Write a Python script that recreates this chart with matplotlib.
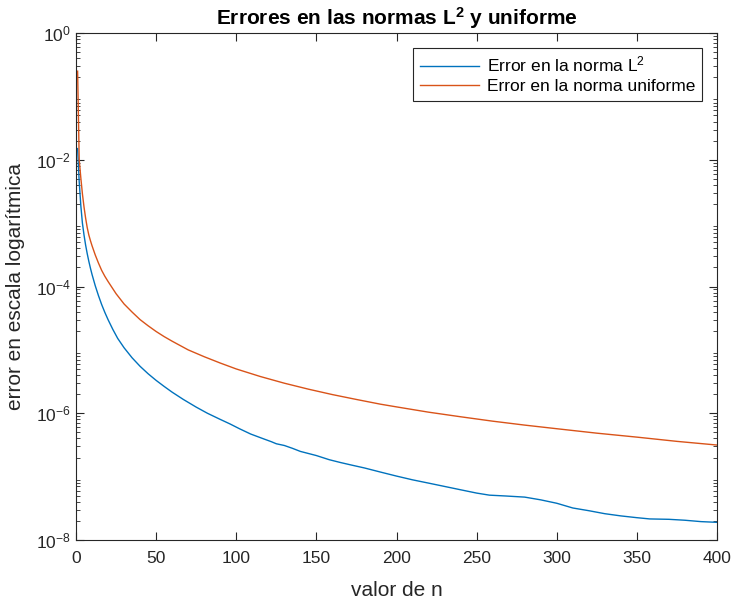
import matplotlib
matplotlib.use("Agg")
import matplotlib.pyplot as plt
from matplotlib.ticker import LogLocator, FixedLocator, NullFormatter, LogFormatterSciNotation
import numpy as np

plt.rcParams['font.family'] = ['Liberation Sans', 'DejaVu Sans']
plt.rcParams['mathtext.fontset'] = 'custom'
plt.rcParams['mathtext.rm'] = 'Liberation Sans'
plt.rcParams['mathtext.it'] = 'Liberation Sans:italic'
plt.rcParams['mathtext.bf'] = 'Liberation Sans:bold'

# L2 norm error
n_l2 = [1, 2, 3, 4, 5, 6, 7, 8, 9, 10, 12, 14, 16, 18, 20, 23, 26, 30, 35, 40, 45, 50,
        55, 60, 67, 75, 82, 90, 96, 102, 109, 117, 122, 125, 130, 135, 140, 150, 158,
        165, 172, 180, 190, 200, 210, 220, 230, 240, 250, 258, 268, 280, 290, 300, 310,
        320, 330, 340, 350, 358, 370, 380, 390, 400]
err_l2 = [1.5e-2, 4.5e-3, 1.9e-3, 1.0e-3, 6.5e-4, 4.5e-4, 3.3e-4, 2.5e-4, 1.95e-4, 1.55e-4,
          1.03e-4, 7.2e-5, 5.2e-5, 3.9e-5, 3.0e-5, 2.1e-5, 1.52e-5, 1.08e-5, 7.5e-6, 5.5e-6,
          4.2e-6, 3.3e-6, 2.65e-6, 2.15e-6, 1.65e-6, 1.25e-6, 1.0e-6, 8.0e-7, 6.8e-7, 5.7e-7,
          4.7e-7, 3.95e-7, 3.55e-7, 3.3e-7, 3.1e-7, 2.8e-7, 2.5e-7, 2.15e-7, 1.85e-7, 1.67e-7,
          1.52e-7, 1.37e-7, 1.18e-7, 1.02e-7, 8.9e-8, 7.9e-8, 7.0e-8, 6.2e-8, 5.5e-8, 5.1e-8,
          4.95e-8, 4.75e-8, 4.3e-8, 3.8e-8, 3.2e-8, 2.9e-8, 2.6e-8, 2.4e-8, 2.25e-8, 2.15e-8,
          2.12e-8, 2.05e-8, 1.95e-8, 1.9e-8]

# uniform norm error
n_unif = [1, 2, 3, 4, 5, 6, 7, 8, 9, 10, 12, 14, 16, 18, 20, 25, 30, 35, 40, 45, 50, 55,
          60, 70, 80, 90, 100, 115, 130, 145, 160, 175, 190, 200, 220, 240, 260, 280, 300,
          325, 350, 375, 400]
err_unif = [0.25, 1.0e-2, 5.2e-3, 2.9e-3, 1.8e-3, 1.2e-3, 8.5e-4, 6.5e-4, 5.3e-4, 4.4e-4,
            3.15e-4, 2.35e-4, 1.8e-4, 1.45e-4, 1.2e-4, 7.7e-5, 5.3e-5, 3.95e-5, 3.0e-5,
            2.4e-5, 1.95e-5, 1.62e-5, 1.37e-5, 1.0e-5, 7.8e-6, 6.2e-6, 5.0e-6, 3.8e-6,
            2.98e-6, 2.4e-6, 1.97e-6, 1.65e-6, 1.39e-6, 1.26e-6, 1.04e-6, 8.8e-7, 7.5e-7,
            6.5e-7, 5.7e-7, 4.85e-7, 4.2e-7, 3.6e-7, 3.15e-7]

labels = ['Error en la norma L$^2$', 'Error en la norma uniforme']
x_ticks = [0, 50, 100, 150, 200, 250, 300, 350, 400]

fig = plt.figure(figsize=(7.36, 6.0), dpi=100)
ax = fig.add_axes([76/736, 1-540/600, (717-76)/736, (540-33)/600])

ax.plot(n_l2, err_l2, color='#0072BD', lw=1.0, label=labels[0])
ax.plot(n_unif, err_unif, color='#D95319', lw=1.0, label=labels[1])

ax.set_yscale('log')
ax.set_xlim(0, 400)
ax.set_ylim(1e-8, 1e0)
ax.xaxis.set_major_locator(FixedLocator(x_ticks))
ax.yaxis.set_major_locator(FixedLocator([1e-8, 1e-6, 1e-4, 1e-2, 1e0]))
ax.yaxis.set_major_formatter(LogFormatterSciNotation())
ax.yaxis.set_minor_locator(LogLocator(base=10, subs=np.arange(2, 10), numticks=20))
ax.yaxis.set_minor_formatter(NullFormatter())

edge = '#262626'
for s in ax.spines.values():
    s.set_color(edge)
    s.set_linewidth(0.8)
ax.tick_params(which='both', direction='in', top=True, right=True, colors=edge,
               labelcolor='#262626', labelsize=12.5)
ax.tick_params(which='major', length=6, width=0.8)
ax.tick_params(which='minor', length=3, width=0.6)
ax.tick_params(axis='x', pad=8)

ax.set_xlabel('valor de n', fontsize=15, color='#262626', labelpad=11)
ax.set_ylabel('error en escala logarítmica', fontsize=15, color='#262626', labelpad=8)
ax.set_title('Errores en las normas L$^\\mathbf{2}$ y uniforme', fontsize=15,
             fontweight='bold', color='black', pad=6)

leg = ax.legend(loc='upper right', fontsize=12.5, fancybox=False, framealpha=1,
                edgecolor='#262626', handlelength=3.4, borderaxespad=0.85,
                borderpad=0.4, labelspacing=0.25, handletextpad=0.45)
leg.get_frame().set_linewidth(0.8)

fig.savefig('out.png', dpi=100)
